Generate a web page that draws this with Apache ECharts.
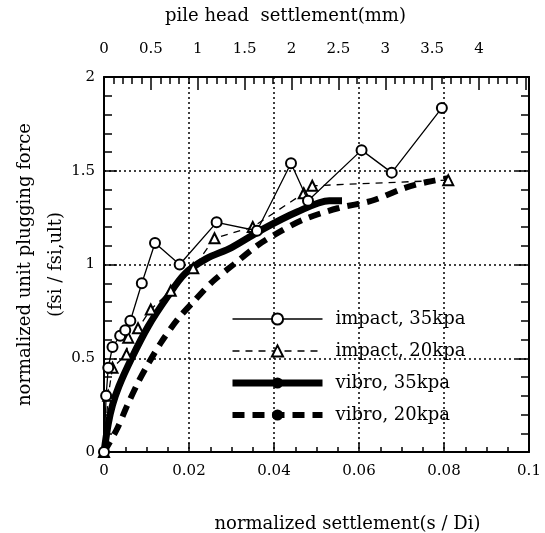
<!DOCTYPE html>
<html>
<head>
<meta charset="utf-8">
<script src="https://cdn.jsdelivr.net/npm/echarts@6/dist/echarts.min.js"></script>
<style>
html,body{margin:0;padding:0;background:#fff;}
#chart{width:545px;height:533px;}
</style>
</head>
<body>
<div id="chart"></div>
<script>
// values
var impact35X = [0, 0.0005, 0.001, 0.002, 0.0038, 0.005, 0.0062, 0.0089, 0.012, 0.0178, 0.0265, 0.036, 0.044, 0.048, 0.0606, 0.0677, 0.0795];
var impact35Y = [0, 0.3, 0.45, 0.56, 0.62, 0.65, 0.7, 0.9, 1.115, 1.0, 1.225, 1.18, 1.54, 1.34, 1.61, 1.49, 1.835];

var impact20X = [0, 0.001, 0.002, 0.0053, 0.0057, 0.008, 0.011, 0.0157, 0.021, 0.026, 0.035, 0.047, 0.049, 0.081];
var impact20Y = [0, 0.3, 0.45, 0.52, 0.61, 0.66, 0.76, 0.86, 0.98, 1.14, 1.2, 1.38, 1.42, 1.45];

var vibro35X = [0, 0.001, 0.002, 0.0035, 0.0065, 0.0104, 0.015, 0.019, 0.024, 0.03, 0.0375, 0.0454, 0.053, 0.056];
var vibro35Y = [0, 0.15, 0.25, 0.35, 0.5, 0.67, 0.83, 0.95, 1.03, 1.09, 1.19, 1.28, 1.34, 1.34];

var vibro20X = [0, 0.003, 0.0055, 0.008, 0.0104, 0.0136, 0.0174, 0.0214, 0.0256, 0.0305, 0.036, 0.041, 0.047, 0.055, 0.063, 0.071, 0.076, 0.081];
var vibro20Y = [0, 0.12, 0.25, 0.37, 0.47, 0.59, 0.71, 0.81, 0.91, 1.0, 1.1, 1.17, 1.24, 1.3, 1.34, 1.41, 1.44, 1.46];

var seriesNames = ['impact, 35kpa', 'impact, 20kpa', 'vibro, 35kpa', 'vibro, 20kpa'];
var topTickLabels = ['0', '0.5', '1', '1.5', '2', '2.5', '3', '3.5', '4'];

var serif = 'DejaVu Serif';

function zip(xs, ys){
	var out = [];
	for(var i = 0; i < xs.length; i++){
		out.push([xs[i], ys[i]]);
	}
	return out;
}

var chart = echarts.init(document.getElementById('chart'), null, {renderer: 'canvas'});

var tickStyle = {color: '#000', width: 1.5};

var option = {
	animation: false,
	backgroundColor: '#fff',
	grid: {left: 104, right: 16, top: 77, bottom: 81, containLabel: false, outerBoundsMode: 'none'},
	legend: {
		orient: 'vertical',
		left: 224,
		top: 305,
		itemWidth: 90,
		itemHeight: 14,
		itemGap: 14,
		data: seriesNames,
		lineStyle: {width: 'inherit', type: 'inherit'},
		textStyle: {fontFamily: serif, fontSize: 18, color: '#000', padding: [0, 0, 0, 8]}
	},
	xAxis: [{
		type: 'value',
		position: 'bottom',
		min: 0,
		max: 0.1,
		interval: 0.02,
		name: 'normalized settlement(s / Di)',
		nameLocation: 'middle',
		nameGap: 63,
		nameTextStyle: {fontFamily: serif, fontSize: 18, color: '#000', padding: [0, 0, 0, 62]},
		axisLine: {onZero: false, lineStyle: {color: '#000', width: 2}},
		axisTick: {inside: true, length: 9, lineStyle: tickStyle},
		minorTick: {show: true, splitNumber: 4, length: 5, lineStyle: tickStyle},
		axisLabel: {fontFamily: serif, fontSize: 15, color: '#000', margin: 12},
		splitLine: {show: true, lineStyle: {color: '#000', type: [2, 3], width: 1.5}}
	}, {
		type: 'value',
		position: 'top',
		min: 0,
		max: 4.533,
		interval: 0.5,
		name: 'pile head  settlement(mm)',
		nameLocation: 'middle',
		nameGap: 52,
		nameTextStyle: {fontFamily: serif, fontSize: 18, color: '#000', padding: [0, 62, 0, 0]},
		axisLine: {onZero: false, lineStyle: {color: '#000', width: 2}},
		axisTick: {inside: true, length: 13, lineStyle: tickStyle},
		minorTick: {show: true, splitNumber: 5, length: 7, lineStyle: tickStyle},
		axisLabel: {
			fontFamily: serif, fontSize: 15, color: '#000', margin: 20,
			showMaxLabel: false,
			formatter: function(v){
				var idx = Math.round(v / 0.5);
				return idx < topTickLabels.length ? topTickLabels[idx] : '';
			}
		},
		splitLine: {show: false}
	}],
	yAxis: [{
		type: 'value',
		position: 'left',
		min: 0,
		max: 2,
		interval: 0.5,
		name: 'normalized unit plugging force\n(fsi / fsi,ult)',
		nameLocation: 'middle',
		nameGap: 32,
		nameMoveOverlap: false,
		nameRotate: 90,
		nameTextStyle: {fontFamily: serif, fontSize: 18, color: '#000', lineHeight: 31},
		axisLine: {onZero: false, lineStyle: {color: '#000', width: 2}},
		axisTick: {inside: true, length: 13, lineStyle: tickStyle},
		minorTick: {show: true, splitNumber: 5, length: 8, lineStyle: tickStyle},
		axisLabel: {fontFamily: serif, fontSize: 15, color: '#000', margin: 9},
		splitLine: {show: true, lineStyle: {color: '#000', type: [2, 3], width: 1.5}}
	}, {
		type: 'value',
		position: 'right',
		min: 0,
		max: 2,
		interval: 0.5,
		axisLine: {show: true, onZero: false, lineStyle: {color: '#000', width: 2}},
		axisTick: {inside: true, length: 13, lineStyle: tickStyle},
		minorTick: {show: true, splitNumber: 5, length: 8, lineStyle: tickStyle},
		axisLabel: {show: false},
		splitLine: {show: false}
	}],
	series: [{
		name: seriesNames[0],
		type: 'line',
		z: 5,
		symbol: 'emptyCircle',
		symbolSize: 10,
		itemStyle: {color: '#000', borderWidth: 1.5},
		lineStyle: {color: '#000', width: 1.3},
		data: zip(impact35X, impact35Y)
	}, {
		name: seriesNames[1],
		type: 'line',
		z: 4,
		symbol: 'emptyTriangle',
		symbolSize: 10,
		itemStyle: {color: '#000', borderWidth: 1.5},
		lineStyle: {color: '#000', width: 1.3, type: [7, 6]},
		data: zip(impact20X, impact20Y)
	}, {
		name: seriesNames[2],
		type: 'line',
		z: 3,
		symbol: 'circle',
		symbolSize: 10,
		showSymbol: false,
		smooth: 0.3,
		itemStyle: {color: '#000'},
		lineStyle: {color: '#000', width: 7},
		data: zip(vibro35X, vibro35Y)
	}, {
		name: seriesNames[3],
		type: 'line',
		z: 2,
		symbol: 'circle',
		symbolSize: 12,
		showSymbol: false,
		smooth: 0.3,
		itemStyle: {color: '#000'},
		lineStyle: {color: '#000', width: 6, type: [12, 8]},
		data: zip(vibro20X, vibro20Y)
	}]
};

chart.setOption(option);
</script>
</body>
</html>
